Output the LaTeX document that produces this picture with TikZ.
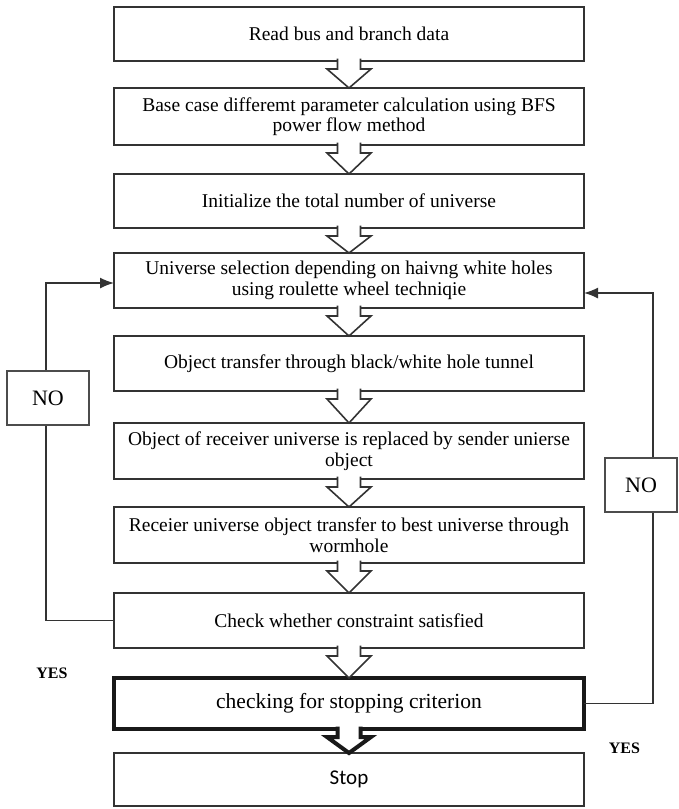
\documentclass[tikz,border=0pt]{standalone}
\usepackage{fontspec}
\setmainfont{Liberation Serif}
\newfontfamily\stopfont{Carlito}
\usetikzlibrary{calc,arrows.meta}

% hollow block arrow from the bottom of box #2 to the top of box #3
\newcommand{\hollowarrow}[3][flowarrow]{%
  \path[#1] ($(#2.south)+(-11.5,-2.5)$) -- ($(#2.south)+(-11.5,8)$)
    -- ($(#2.south)+(-22,8)$) -- (#3.north) -- ($(#2.south)+(22,8)$)
    -- ($(#2.south)+(11.5,8)$) -- ($(#2.south)+(11.5,-2.5)$);
}

\begin{document}
\begin{tikzpicture}[x=1pt,y=-1pt,
  stepbox/.style={rectangle, draw=black!80, line width=1.8pt, fill=white,
    minimum width=470pt, outer sep=0pt, inner sep=2pt, align=center,
    font=\fontsize{19.5}{20.5}\selectfont},
  thickbox/.style={stepbox, draw=black!90, line width=4pt,
    font=\fontsize{21.5}{22}\selectfont},
  flowarrow/.style={draw=black!80, line width=1.6pt, fill=white, line join=miter},
  thickarrow/.style={flowarrow, draw=black!90, line width=4pt},
  loopline/.style={draw=black!80, line width=1.5pt},
  loophead/.style={-{Latex[length=14pt,width=11pt]}},
  nobox/.style={rectangle, draw=black!70, line width=1.2pt, fill=white,
    outer sep=0pt, font=\fontsize{22}{22}\selectfont},
  yeslabel/.style={font=\bfseries\fontsize{16}{16}\selectfont, inner sep=0pt}
]
\useasboundingbox (0,0) rectangle (678,809);

% process steps
\node[stepbox, minimum height=54pt] (b1) at (349,34) {Read bus and branch data};
\node[stepbox, minimum height=57pt] (b2) at (349,116.5)
  {Base case differemt parameter calculation using BFS\\power flow method};
\node[stepbox, minimum height=54pt] (b3) at (349,201) {Initialize the total number of universe};
\node[stepbox, minimum height=55pt] (b4) at (349,280.5)
  {Universe selection depending on haivng white holes\\using roulette wheel techniqie};
\node[stepbox, minimum height=55pt] (b5) at (349,363.5) {Object transfer through black/white hole tunnel};
\node[stepbox, minimum height=56pt] (b6) at (349,451)
  {Object of receiver universe is replaced by sender unierse\\object};
\node[stepbox, minimum height=56pt] (b7) at (349,535)
  {Receier universe object transfer to best universe through\\wormhole};
\node[stepbox, minimum height=55pt] (b8) at (349,620.5) {Check whether constraint satisfied};
\node[thickbox, minimum height=51pt] (b9) at (349,703.5) {checking for stopping criterion};
\node[stepbox, minimum height=53pt, font=\stopfont\fontsize{21}{22}\selectfont] (b10) at (349,779.5) {Stop};

% block arrows between the steps
\hollowarrow{b1}{b2}
\hollowarrow{b2}{b3}
\hollowarrow{b3}{b4}
\hollowarrow{b4}{b5}
\hollowarrow{b5}{b6}
\hollowarrow{b6}{b7}
\hollowarrow{b7}{b8}
\hollowarrow{b8}{b9}
\hollowarrow[thickarrow]{b9}{b10}

% feedback loops
\coordinate (lb) at (46,620.5);
\coordinate (lt) at (46,283);
\draw[loopline, loophead] (b8.west) -- (lb) -- (lt) -- (lt -| b4.west);
\coordinate (rb) at (653,703.5);
\coordinate (rt) at (653,293);
\draw[loopline, loophead] (b9.east) -- (rb) -- (rt) -- (rt -| b4.east);

% loop labels
\node[nobox, minimum width=82pt, minimum height=54pt] (no1) at (48,398) {NO};
\node[nobox, minimum width=72pt, minimum height=54pt] (no2) at (641,485) {NO};
\node[yeslabel] (yes1) at (52,673) {YES};
\node[yeslabel] (yes2) at (624.5,748) {YES};
\end{tikzpicture}
\end{document}
